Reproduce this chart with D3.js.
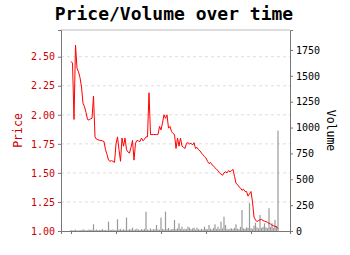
<!DOCTYPE html>
<html>
<head>
<meta charset="utf-8">
<script src="https://cdn.jsdelivr.net/npm/d3@7"></script>
<style>
  body { margin: 0; background: #fff; }
  text { font-family: "DejaVu Sans Mono", monospace; }
</style>
</head>
<body>
<svg id="chart" width="350" height="255"></svg>
<script>
// daily price and volume, one entry per day
const price = [
  2.46, 2.445, 1.96, 2.60, 2.40, 2.37, 2.32, 2.24, 2.10, 2.07,
  2.02, 1.96, 1.955, 1.965, 1.97, 2.16, 1.81, 1.79, 1.785, 1.78,
  1.78, 1.775, 1.77, 1.70, 1.66, 1.61, 1.60, 1.605, 1.60, 1.59,
  1.75, 1.81, 1.70, 1.60, 1.80, 1.73, 1.80, 1.70, 1.68, 1.67,
  1.72, 1.78, 1.61, 1.756, 1.78, 1.775, 1.77, 1.80, 1.776, 1.79,
  1.81, 1.81, 2.19, 1.83, 1.83, 1.83, 1.83, 1.83, 1.83, 1.90,
  1.87, 1.93, 2.00, 1.97, 2.00, 1.885, 1.90, 1.856, 1.84, 1.83,
  1.71, 1.80, 1.73, 1.80, 1.73, 1.72, 1.71, 1.756, 1.76, 1.75,
  1.756, 1.74, 1.76, 1.71, 1.72, 1.70, 1.69, 1.67, 1.655, 1.64,
  1.627, 1.60, 1.58, 1.59, 1.57, 1.56, 1.545, 1.53, 1.52, 1.50,
  1.49, 1.48, 1.50, 1.51, 1.50, 1.52, 1.51, 1.52, 1.53, 1.47,
  1.41, 1.40, 1.38, 1.37, 1.35, 1.36, 1.34, 1.34, 1.30, 1.32,
  1.34, 1.25, 1.12, 1.095, 1.08, 1.09, 1.095, 1.10, 1.09, 1.085,
  1.08, 1.075, 1.066, 1.06, 1.05, 1.045, 1.04, 1.037, 1.02
];

const volume = [
  10, 5, 8, 12, 6, 4, 9, 7, 15, 11,
  6, 8, 14, 10, 12, 65, 9, 14, 7, 10,
  12, 18, 8, 11, 6, 90, 12, 9, 15, 8,
  10, 113, 14, 20, 10, 16, 12, 129, 10, 18,
  14, 32, 11, 15, 22, 13, 9, 18, 12, 20,
  187, 14, 10, 25, 12, 18, 16, 58, 15, 12,
  129, 20, 14, 187, 18, 29, 12, 16, 20, 106,
  18, 25, 74, 20, 42, 15, 22, 18, 42, 32,
  16, 24, 32, 14, 32, 18, 12, 20, 15, 42,
  20, 16, 58, 22, 14, 30, 65, 20, 42, 18,
  90, 25, 138, 58, 20, 15, 22, 26, 18, 30,
  65, 22, 18, 40, 203, 25, 20, 35, 30, 270,
  28, 20, 51, 80, 35, 25, 155, 30, 40, 74,
  35, 28, 220, 40, 74, 30, 106, 45, 970
];

const dayTicks = [0, 30, 60, 90, 120];
const priceTicks = [1.0, 1.25, 1.5, 1.75, 2.0, 2.25, 2.5];
const volumeTicks = [0, 250, 500, 750, 1000, 1250, 1500, 1750];

const margin = { top: 30, right: 60, bottom: 24, left: 61 };
const width = 350 - margin.left - margin.right;
const height = 255 - margin.top - margin.bottom;

const svg = d3.select("#chart");
const g = svg.append("g").attr("transform", `translate(${margin.left},${margin.top})`);

const x = d3.scaleLinear().domain([-6.67, 146]).range([0, width]);
const yPrice = d3.scaleLinear().domain([1.0, 2.73]).range([height, 0]);
const yVol = d3.scaleLinear().domain([0, 1943]).range([height, 0]);

const rows = price.map((p, i) => ({ day: i, price: p, volume: volume[i] }));

// grid
g.append("g")
  .selectAll("line")
  .data(priceTicks.slice(1))
  .join("line")
  .attr("x1", 0)
  .attr("x2", width)
  .attr("y1", (d) => yPrice(d))
  .attr("y2", (d) => yPrice(d))
  .attr("stroke", "#ddd")
  .attr("stroke-dasharray", "3,3");

// top border
g.append("line")
  .attr("x1", 0).attr("x2", width)
  .attr("y1", 0).attr("y2", 0)
  .attr("stroke", "#bbb");

// volume bars
g.append("g")
  .selectAll("rect")
  .data(rows)
  .join("rect")
  .attr("x", (d) => x(d.day) - 0.6)
  .attr("width", 1.2)
  .attr("y", (d) => yVol(d.volume))
  .attr("height", (d) => height - yVol(d.volume))
  .attr("fill", "#888")
  .attr("opacity", 0.85);

// price line
const line = d3.line()
  .x((d) => x(d.day))
  .y((d) => yPrice(d.price));

g.append("path")
  .datum(rows)
  .attr("d", line)
  .attr("fill", "none")
  .attr("stroke", "red")
  .attr("stroke-width", 1);

// axes
const axisLeft = g.append("g")
  .call(d3.axisLeft(yPrice).tickValues(priceTicks).tickFormat(d3.format(".2f")).tickSize(3).tickPadding(3));
axisLeft.selectAll("text").attr("fill", "#cc0000").style("font-size", "10px");

const axisRight = g.append("g")
  .attr("transform", `translate(${width},0)`)
  .call(d3.axisRight(yVol).tickValues(volumeTicks).tickFormat(d3.format("d")).tickSize(3).tickPadding(3));
axisRight.selectAll("text").attr("fill", "#000").style("font-size", "10px");

const axisBottom = g.append("g")
  .attr("transform", `translate(0,${height})`)
  .call(d3.axisBottom(x).tickValues(dayTicks).tickFormat("").tickSize(3));

[axisLeft, axisRight, axisBottom].forEach((a) => {
  a.select(".domain").attr("stroke", "#777");
  a.selectAll(".tick line").attr("stroke", "#777");
});

// titles
svg.append("text")
  .attr("x", 174)
  .attr("y", 20)
  .attr("text-anchor", "middle")
  .style("font-size", "18px")
  .style("font-weight", "bold")
  .text("Price/Volume over time");

svg.append("text")
  .attr("transform", `translate(22,${margin.top + height / 2}) rotate(-90)`)
  .attr("text-anchor", "middle")
  .attr("fill", "#cc0000")
  .style("font-size", "11.5px")
  .text("Price");

svg.append("text")
  .attr("transform", `translate(327,${margin.top + height / 2}) rotate(90)`)
  .attr("text-anchor", "middle")
  .attr("fill", "#000")
  .style("font-size", "11.5px")
  .text("Volume");
</script>
</body>
</html>
